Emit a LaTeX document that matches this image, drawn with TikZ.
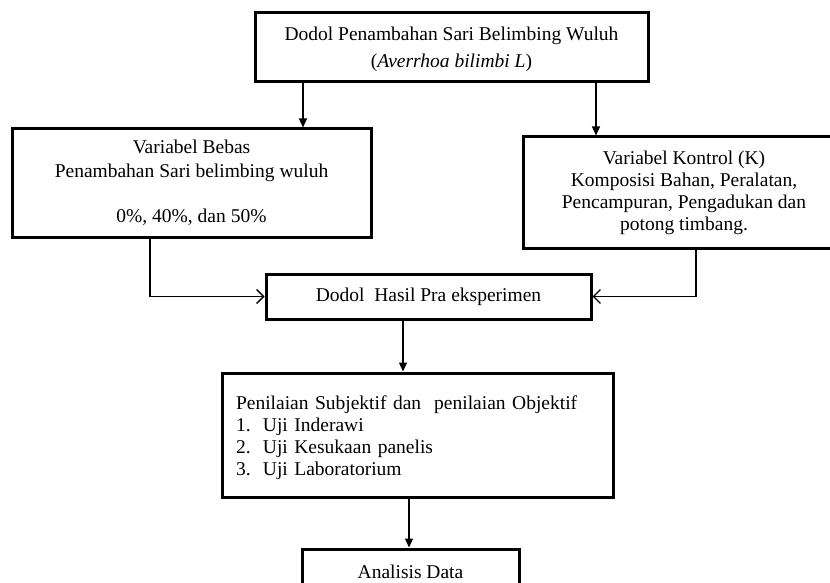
\documentclass[tikz,border=0pt]{standalone}
\usepackage{fontspec}
\setmainfont{Liberation Serif}
\usetikzlibrary{arrows.meta}
\begin{document}
\begin{tikzpicture}[x=1pt,y=-1pt,
  font=\fontsize{19.5}{22}\selectfont,
  box/.style={draw, line width=3pt, rectangle, inner sep=0pt, align=center},
  conn/.style={line width=1.3pt},
  fa/.style={-{Triangle[length=9pt,width=8pt]}},
  oa/.style={-{Straight Barb[length=7pt,width=14pt,line width=1.3pt]}}]
\useasboundingbox (0,0) rectangle (830,583);
\clip (0,0) rectangle (830,583);

\node[box, minimum width=393pt, minimum height=69pt] (top) at (451.5,47.5)
  {\rule{0pt}{17pt}Dodol Penambahan Sari Belimbing Wuluh\\[5pt](\textit{Averrhoa bilimbi L})};
\node[box, minimum width=359pt, minimum height=108pt] (left) at (191.5,183)
  {Variabel Bebas\\[2pt]Penambahan Sari belimbing wuluh\\[23pt]0\%, 40\%, dan 50\%};
\node[box, minimum width=322pt, minimum height=111pt] (right) at (684,192.5)
  {Variabel Kontrol (K)\\Komposisi Bahan, Peralatan,\\Pencampuran, Pengadukan dan\\potong timbang.};
\node[box, minimum width=325pt, minimum height=45pt] (mid) at (428.5,296.5)
  {Dodol\ \ Hasil Pra eksperimen};
\node[box, inner xsep=14pt, text width=363pt, align=left, minimum height=124pt] (pen) at (417.5,435)
  {\rule{0pt}{20pt}Penilaian Subjektif dan\ \ penilaian Objektif\\
   \makebox[27pt][l]{1.}Uji Inderawi\\
   \makebox[27pt][l]{2.}Uji Kesukaan panelis\\
   \makebox[27pt][l]{3.}Uji Laboratorium};
\node[box, minimum width=217pt, minimum height=45pt] (ana) at (410.5,571.5)
  {Analisis Data};

\coordinate (c303) at (303,0);
\coordinate (c596) at (596,0);
\coordinate (c150) at (150,0);
\coordinate (c696) at (696,0);
\coordinate (c403) at (403,0);
\coordinate (c409) at (409,0);

\draw[conn,fa] (top.south -| c303) -- (left.north -| c303);
\draw[conn,fa] (top.south -| c596) -- (right.north -| c596);
\draw[conn,oa] (left.south -| c150) |- (mid.west);
\draw[conn,oa] (right.south -| c696) |- (mid.east);
\draw[conn,fa] (mid.south -| c403) -- (pen.north -| c403);
\draw[conn,fa] (pen.south -| c409) -- (ana.north -| c409);
\end{tikzpicture}
\end{document}
